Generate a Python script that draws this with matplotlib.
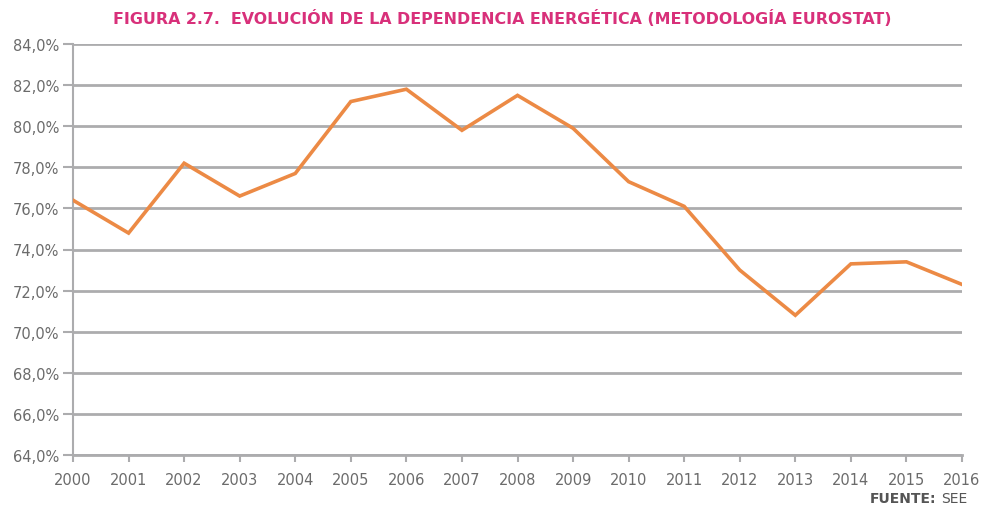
import matplotlib
matplotlib.use("Agg")
import matplotlib.pyplot as plt
from matplotlib.ticker import FuncFormatter

years = list(range(2000, 2017))
dependencia = [76.4, 74.8, 78.2, 76.6, 77.7, 81.2, 81.8, 79.8, 81.5,
               79.9, 77.3, 76.1, 73.0, 70.8, 73.3, 73.4, 72.3]
yticks = [64, 66, 68, 70, 72, 74, 76, 78, 80, 82, 84]

titulo = "FIGURA 2.7.  EVOLUCIÓN DE LA DEPENDENCIA ENERGÉTICA (METODOLOGÍA EUROSTAT)"

plt.rcParams['font.family'] = ['Liberation Sans Narrow', 'DejaVu Sans']

grid_col = '#acacae'
txt_col = '#6b6b6b'

fig = plt.figure(figsize=(9.85, 5.10), dpi=100)
ax = fig.add_axes([73/985, 1-456/510, (962-73)/985, (456-45)/510])

for y in yticks:
    ax.axhline(y, color=grid_col, lw=2.0, zorder=1)
ax.plot(years, dependencia, color='#ec8a45', lw=2.6, zorder=3,
        solid_joinstyle='miter')

ax.set_xlim(2000, 2016)
ax.set_ylim(64, 84)
ax.set_xticks(years)
ax.set_yticks(yticks)
ax.yaxis.set_major_formatter(FuncFormatter(lambda v, p: f"{v:.1f}%".replace('.', ',')))

for s in ['top', 'right']:
    ax.spines[s].set_visible(False)
ax.spines['left'].set_color(grid_col)
ax.spines['left'].set_linewidth(1.5)
ax.spines['bottom'].set_color(grid_col)
ax.spines['bottom'].set_linewidth(2.0)
ax.tick_params(axis='y', length=7, width=1.5, color=grid_col, labelcolor=txt_col,
               labelsize=10.5, pad=3)
ax.tick_params(axis='x', length=5, width=1.5, color=grid_col, labelcolor=txt_col,
               labelsize=10.5, pad=7)

fig.text(0.510, 0.963, titulo, ha='center', va='center', color='#d8307a',
         fontsize=11.4, fontweight='bold')
fig.text(0.982 - 0.031, 0.022, "FUENTE:", ha='right', va='center', color='#555555',
         fontsize=10, fontweight='bold')
fig.text(0.982, 0.022, "SEE", ha='right', va='center', color='#555555', fontsize=10)

fig.savefig('out.png', dpi=100)
